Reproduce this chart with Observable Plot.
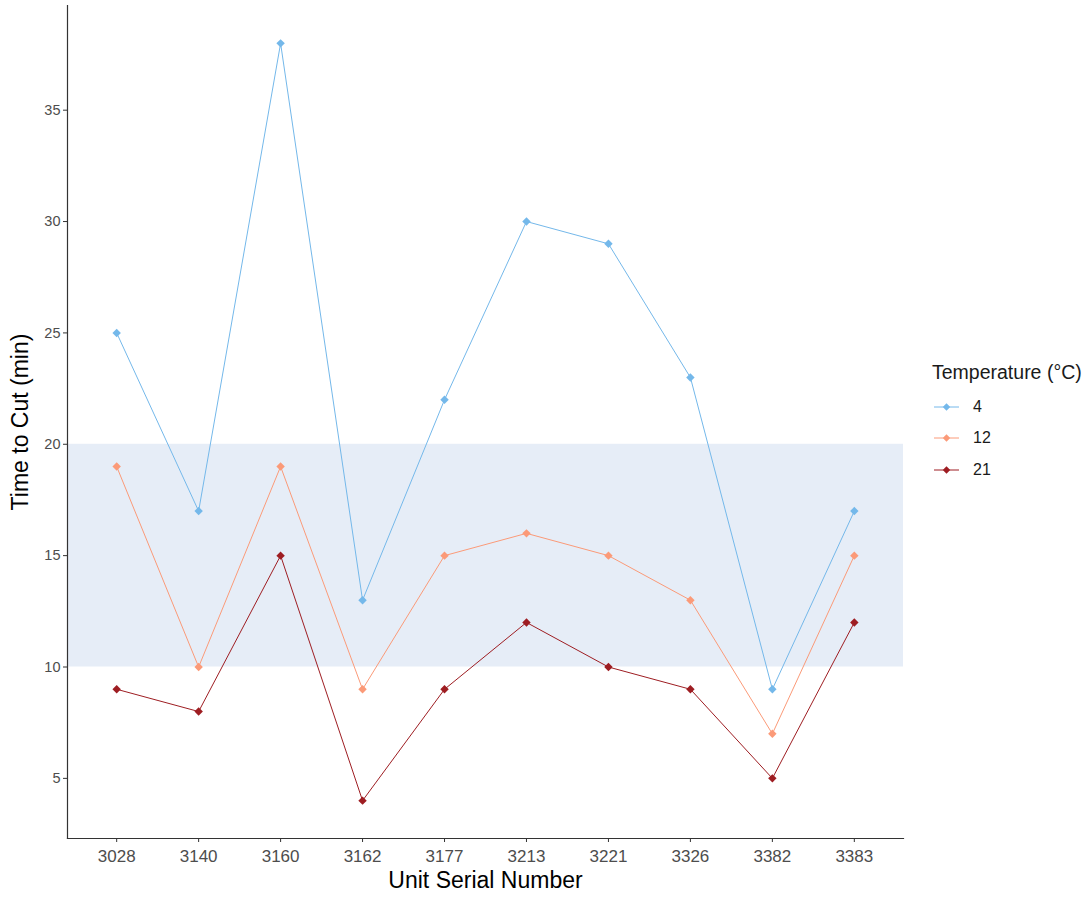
<!DOCTYPE html>
<html>
<head>
<meta charset="utf-8">
<script src="https://cdn.jsdelivr.net/npm/d3@7"></script>
<script src="https://cdn.jsdelivr.net/npm/@observablehq/plot@0.6"></script>
<style>
  body { margin: 0; background: #fff; font-family: "Liberation Sans", Arial, sans-serif; }
  #wrap { position: relative; width: 1089px; height: 900px; }
  #legend { position: absolute; left: 932px; top: 361px; color: #1a1a1a; }
  #legend .title { font-size: 19.5px; height: 28px; margin-bottom: 2px; }
  #legend .item { display: flex; align-items: center; height: 31.5px; font-size: 16px; }
  #legend svg { margin-right: 13px; }
</style>
</head>
<body>
<div id="wrap"><div id="chart"></div><div id="legend"></div></div>
<script>
const serials = ["3028","3140","3160","3162","3177","3213","3221","3326","3382","3383"];
const temps = ["4","12","21"];
const colors = ["#74b8ea","#fb9a78","#9e1d22"];
const temp4 = [25,17,38,13,22,30,29,23,9,17];
const temp12 = [19,10,19,9,15,16,15,13,7,15];
const temp21 = [9,8,15,4,9,12,10,9,5,12];
const bandRange = [10, 20];
const yTicks = [5,10,15,20,25,30,35];

const series = [temp4, temp12, temp21];
const data = [];
temps.forEach((t, i) => serials.forEach((s, j) => data.push({serial: s, temp: t, value: series[i][j]})));

const plot = Plot.plot({
  width: 1089,
  height: 900,
  marginLeft: 67,
  marginRight: 186,
  marginTop: 5,
  marginBottom: 62,
  style: { fontFamily: "Liberation Sans, Arial, sans-serif", background: "#fff" },
  x: { type: "point", domain: serials, padding: 0.6, round: false, label: null },
  y: { domain: [2.3, 39.7], label: null },
  color: { domain: temps, range: colors },
  marks: [
    Plot.rect([{}], { y1: bandRange[0], y2: bandRange[1], fill: "#e6edf7" }),
    Plot.line(data, { x: "serial", y: "value", z: "temp", stroke: "temp", strokeWidth: 1 }),
    Plot.dot(data, { x: "serial", y: "value", fill: "temp", stroke: null, symbol: "diamond2", r: 3.8 }),
    Plot.axisY(yTicks, { tickSize: 4, tickPadding: 3, fontSize: 14.5, fill: "#4d4d4d", stroke: "#333", label: null }),
    Plot.axisX({ tickSize: 4, tickPadding: 7, fontSize: 17, fill: "#4d4d4d", stroke: "#333", label: null }),
    Plot.frame({ anchor: "left", stroke: "#333", strokeWidth: 1.2 }),
    Plot.frame({ anchor: "bottom", stroke: "#333", strokeWidth: 1.2 }),
    Plot.text(["Time to Cut (min)"], { frameAnchor: "left", textAnchor: "middle", dx: -47, rotate: -90, fontSize: 23, fill: "#000", text: d => d }),
    Plot.text(["Unit Serial Number"], { frameAnchor: "bottom", textAnchor: "middle", dy: 49, fontSize: 23, fill: "#000", text: d => d })
  ]
});
document.getElementById("chart").appendChild(plot);

const legend = document.getElementById("legend");
legend.innerHTML = `<div class="title">Temperature (°C)</div>` + temps.map((t, i) =>
  `<div class="item"><svg width="28" height="12"><line x1="2" x2="27" y1="6" y2="6" stroke="${colors[i]}" stroke-width="1"/><path d="M14.5,2.3L18.2,6L14.5,9.7L10.8,6Z" fill="${colors[i]}"/></svg>${t}</div>`
).join("");
</script>
</body>
</html>
